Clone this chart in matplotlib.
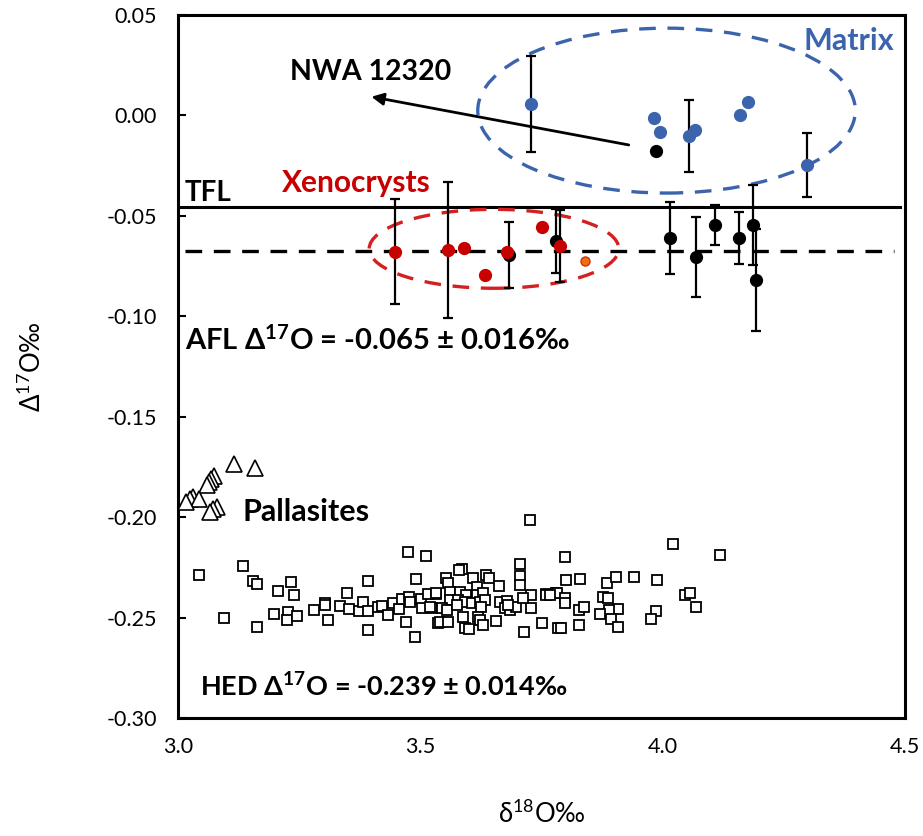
import numpy as np
import matplotlib
matplotlib.use("Agg")
import matplotlib.pyplot as plt
from matplotlib.patches import Ellipse

plt.rcParams['font.family'] = ['Lato', 'DejaVu Sans']
plt.rcParams['axes.unicode_minus'] = False
plt.rcParams['mathtext.fontset'] = 'custom'
plt.rcParams['mathtext.rm'] = 'Lato'
plt.rcParams['mathtext.bf'] = 'Lato:bold'
plt.rcParams['mathtext.fallback'] = 'stixsans'

# ---------------- data ----------------
matrix_x = [3.729, 3.983, 3.994, 4.054, 4.066, 4.160, 4.176, 4.297]
matrix_y = [0.0057, -0.0015, -0.0084, -0.0103, -0.0073, 0.0004, 0.0067, -0.0245]
matrix_err = [0.024, 0, 0, 0.018, 0, 0, 0, 0.016]

afl_x = [3.987, 3.683, 3.780, 4.016, 4.068, 4.109, 4.157, 4.186, 4.193]
afl_y = [-0.0176, -0.0695, -0.0624, -0.0609, -0.0706, -0.0547, -0.0609, -0.0546, -0.0819]
afl_err = [0, 0.0166, 0.016, 0.018, 0.020, 0.010, 0.013, 0.020, 0.0255]

xeno_x = [3.448, 3.558, 3.591, 3.633, 3.679, 3.752, 3.788]
xeno_y = [-0.0678, -0.0670, -0.0662, -0.0794, -0.0681, -0.0554, -0.0650]
xeno_err = [0.026, 0.034, 0, 0, 0, 0, 0.018]

orange_x = [3.840]
orange_y = [-0.0723]

pall_x = [3.115, 3.159, 3.074, 3.069, 3.063, 3.060, 3.031, 3.024, 3.043, 3.017, 3.081, 3.072, 3.065]
pall_y = [-0.1735, -0.1757, -0.1795, -0.1811, -0.1823, -0.1840, -0.1898, -0.1911, -0.1911,
          -0.1923, -0.1948, -0.1961, -0.1973]

hed_x = [3.043, 3.135, 3.155, 3.162, 3.206, 3.234, 3.239, 3.095, 3.164, 3.198, 3.227, 3.224,
         3.246, 3.280, 3.474, 3.511, 3.392, 3.492, 3.349, 3.303, 3.303, 3.309, 3.335, 3.353,
         3.374, 3.382, 3.392, 3.413, 3.420, 3.434, 3.444, 3.456, 3.463, 3.477, 3.478, 3.470,
         3.392, 3.489, 3.502, 3.504, 3.516, 3.525, 3.532, 3.537, 3.727, 3.705, 3.705, 3.705,
         3.713, 3.750, 3.759, 3.587, 3.580, 3.553, 3.557, 3.636, 3.642, 3.662, 3.609, 3.616,
         3.533, 3.561, 3.581, 3.595, 3.616, 3.630, 3.561, 3.578, 3.592, 3.606, 3.623, 3.633,
         3.664, 3.678, 3.520, 3.544, 3.554, 3.575, 3.626, 3.674, 3.685, 3.698, 3.729, 3.729,
         3.760, 3.779, 3.588, 3.619, 3.623, 3.657, 3.540, 3.557, 3.592, 3.600, 3.630, 3.784,
         4.021, 4.118, 3.798, 3.801, 3.830, 3.885, 3.904, 3.941, 3.988, 3.782, 3.798, 3.798,
         3.877, 3.887, 3.908, 3.889, 3.870, 3.827, 3.838, 3.893, 3.908, 3.827, 3.790, 3.986,
         3.975, 4.047, 4.056, 4.069, 3.712, 3.681, 3.767]
hed_y = [-0.2288, -0.2243, -0.2316, -0.2333, -0.2367, -0.2323, -0.2386, -0.2500, -0.2545,
         -0.2482, -0.2472, -0.2512, -0.2492, -0.2463, -0.2172, -0.2192, -0.2316, -0.2306,
         -0.2376, -0.2426, -0.2437, -0.2512, -0.2440, -0.2458, -0.2465, -0.2420, -0.2465,
         -0.2445, -0.2440, -0.2487, -0.2426, -0.2457, -0.2409, -0.2399, -0.2420, -0.2520,
         -0.2561, -0.2595, -0.2409, -0.2453, -0.2382, -0.2453, -0.2382, -0.2525, -0.2014,
         -0.2234, -0.2291, -0.2337, -0.2573, -0.2528, -0.2384, -0.2259, -0.2263, -0.2304,
         -0.2329, -0.2288, -0.2304, -0.2341, -0.2304, -0.2346, -0.2379, -0.2371, -0.2371,
         -0.2387, -0.2387, -0.2379, -0.2412, -0.2412, -0.2420, -0.2426, -0.2420, -0.2412,
         -0.2420, -0.2417, -0.2445, -0.2453, -0.2462, -0.2437, -0.2445, -0.2453, -0.2462,
         -0.2445, -0.2387, -0.2453, -0.2387, -0.2379, -0.2498, -0.2495, -0.2512, -0.2515,
         -0.2520, -0.2520, -0.2553, -0.2558, -0.2537, -0.2553, -0.2135, -0.2188, -0.2200,
         -0.2313, -0.2306, -0.2329, -0.2296, -0.2296, -0.2313, -0.2376, -0.2404, -0.2426,
         -0.2396, -0.2404, -0.2457, -0.2462, -0.2483, -0.2462, -0.2449, -0.2508, -0.2545,
         -0.2537, -0.2553, -0.2465, -0.2508, -0.2387, -0.2379, -0.2449, -0.2404, -0.2437,
         -0.2387]

tfl_y = -0.0454
afl_line_y = -0.0673

x_ticks = [3.0, 3.5, 4.0, 4.5]
x_ticklabels = ["3.0", "3.5", "4.0", "4.5"]
y_ticks = [0.05, 0.00, -0.05, -0.10, -0.15, -0.20, -0.25, -0.30]
y_ticklabels = ["0.05", "0.00", "-0.05", "-0.10", "-0.15", "-0.20", "-0.25", "-0.30"]

# ---------------- figure ----------------
fig = plt.figure(figsize=(9.23, 8.36), dpi=100)
ax = fig.add_axes([178/923, 1 - 718/836, (905-178)/923, (718-15)/836])
ax.set_xlim(3.0, 4.5)
ax.set_ylim(-0.30, 0.05)

BLUE = '#3B64AD'
RED = '#C80000'

# reference lines
ax.axhline(tfl_y, xmin=0.0, xmax=0.993, color='black', lw=2.2, zorder=2)
ax.axhline(afl_line_y, xmin=0.01, xmax=0.985, color='black', lw=2.4,
           dashes=(5, 3.5), zorder=2)

# ellipses
ax.add_patch(Ellipse((4.008, 0.0024), 0.779, 0.0821, fill=False, ec=BLUE, lw=2.4,
                     ls=(0, (5, 3.5)), zorder=2))
ax.add_patch(Ellipse((3.652, -0.0664), 0.515, 0.0393, fill=False, ec='#D42020', lw=2.4,
                     ls=(0, (5, 3.5)), zorder=2))

def ebars(xs, ys, es):
    xs = np.asarray(xs); ys = np.asarray(ys); es = np.asarray(es)
    m = es > 0
    ax.errorbar(xs[m], ys[m], yerr=es[m], fmt='none', ecolor='black', elinewidth=1.6,
                capsize=3.6, capthick=1.6, zorder=3)

ebars(matrix_x, matrix_y, matrix_err)
ebars(afl_x, afl_y, afl_err)
ebars(xeno_x, xeno_y, xeno_err)

# points
ax.plot(hed_x, hed_y, 's', ms=7, mfc='white', mec='black', mew=1.3, ls='none', zorder=4)
ax.plot(pall_x, pall_y, '^', ms=11, mfc='white', mec='black', mew=1.2, ls='none', zorder=4)
ax.plot(afl_x, afl_y, 'o', ms=8.5, color='black', ls='none', zorder=5)
ax.plot(xeno_x, xeno_y, 'o', ms=8.5, color=RED, ls='none', zorder=6)
ax.plot(orange_x, orange_y, 'o', ms=6.5, mfc='#F07010', mec='#D03010', mew=1, ls='none', zorder=6)
ax.plot(matrix_x, matrix_y, 'o', ms=8.5, color=BLUE, ls='none', zorder=6)

# arrow
ax.annotate('', xy=(3.399, 0.0093), xytext=(3.930, -0.0147),
            arrowprops=dict(arrowstyle='-|>', color='black', lw=2,
                            mutation_scale=18, shrinkA=0, shrinkB=0), zorder=7)

# texts
ax.text(3.231, 0.0176, 'NWA 12320', fontsize=20.5, fontweight='bold', va='baseline', ha='left')
ax.text(4.478, 0.0326, 'Matrix', fontsize=22, fontweight='bold', color=BLUE, va='baseline', ha='right')
ax.text(3.014, -0.0426, 'TFL', fontsize=20, fontweight='bold', va='baseline', ha='left')
ax.text(3.214, -0.0380, 'Xenocrysts', fontsize=21.5, fontweight='bold', color=RED, va='baseline', ha='left')
ax.text(3.014, -0.1168, r'AFL $\mathbf{\Delta^{17}}$O = -0.065 ± 0.016‰', fontsize=21,
        fontweight='bold', va='baseline', ha='left')
ax.text(3.134, -0.2019, 'Pallasites', fontsize=22, fontweight='bold', va='baseline', ha='left')
ax.text(3.045, -0.2894, r'HED $\mathbf{\Delta^{17}}$O = -0.239 ± 0.014‰', fontsize=19.5,
        fontweight='bold', va='baseline', ha='left')

# axes styling
for s in ax.spines.values():
    s.set_linewidth(2.2)
    s.set_color('black')
ax.set_xticks(x_ticks)
ax.set_xticklabels(x_ticklabels)
ax.set_yticks(y_ticks)
ax.set_yticklabels(y_ticklabels)
ax.tick_params(axis='y', direction='in', length=6, width=1.5, pad=15, labelsize=15.5)
ax.tick_params(axis='x', direction='in', length=0, pad=14, labelsize=15.5)

ax.set_xlabel(r'$\mathrm{\delta}^{18}$O‰', fontsize=18.5, labelpad=30)
ax.set_ylabel(r'$\mathrm{\Delta}^{17}$O‰', fontsize=18.5, labelpad=44)

fig.savefig('out.png', dpi=100)
